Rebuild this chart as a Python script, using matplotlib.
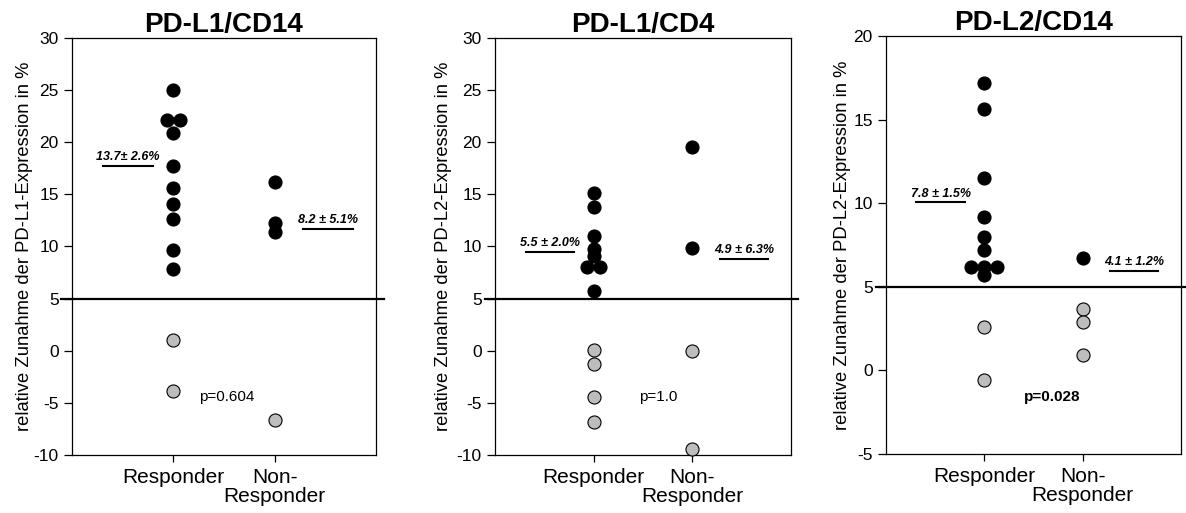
import numpy as np
import matplotlib
matplotlib.use('Agg')
from matplotlib import pyplot as plt
import matplotlib.transforms as mtransforms

plt.rcParams['font.family'] = ['Liberation Sans', 'DejaVu Sans']
plt.rcParams['axes.unicode_minus'] = False

###############################################################################
# data
titles = ['PD-L1/CD14', 'PD-L1/CD4', 'PD-L2/CD14']
ylabels = ['relative Zunahme der PD-L1-Expression in %',
           'relative Zunahme der PD-L2-Expression in %',
           'relative Zunahme der PD-L2-Expression in %']
groups = ['Responder', 'Non-\nResponder']

# panel 1: PD-L1/CD14
p1_resp_black = [25.0, 22.1, 22.1, 20.9, 17.7, 15.6, 14.1, 12.6, 9.7, 7.8]
p1_resp_grey = [1.0, -3.9]
p1_non_black = [16.2, 12.3, 11.4]
p1_non_grey = [-6.6]
p1_mean_y = [17.7, 11.7]
p1_mean_txt = ['13.7± 2.6%', '8.2 ± 5.1%']
p1_p = 'p=0.604'

# panel 2: PD-L1/CD4
p2_resp_black = [15.1, 13.8, 11.0, 9.8, 9.1, 8.0, 8.0, 5.7]
p2_resp_grey = [0.1, -1.3, -4.4, -6.8]
p2_non_black = [19.5, 9.9]
p2_non_grey = [0.0, -9.4]
p2_mean_y = [9.5, 8.8]
p2_mean_txt = ['5.5 ± 2.0%', '4.9 ± 6.3%']
p2_p = 'p=1.0'

# panel 3: PD-L2/CD14
p3_resp_black = [17.2, 15.6, 11.5, 9.2, 8.0, 7.2, 6.2, 6.2, 6.2, 5.7]
p3_resp_grey = [2.6, -0.6]
p3_non_black = [6.7]
p3_non_grey = [3.7, 2.9, 0.9]
p3_mean_y = [10.05, 5.96]
p3_mean_txt = ['7.8 ± 1.5%', '4.1 ± 1.2%']
p3_p = 'p=0.028'

threshold = 5
###############################################################################

panels = [
    dict(rb=p1_resp_black, rg=p1_resp_grey, nb=p1_non_black, ng=p1_non_grey,
         my=p1_mean_y, mt=p1_mean_txt, p=p1_p, pxy=(1.53, -4.4), pbold=False,
         ylim=(-10, 30), rect=[0.0607, 0.113, 0.2563, 0.813], ylx=-0.127),
    dict(rb=p2_resp_black, rg=p2_resp_grey, nb=p2_non_black, ng=p2_non_grey,
         my=p2_mean_y, mt=p2_mean_txt, p=p2_p, pxy=(1.65, -4.4), pbold=False,
         ylim=(-10, 30), rect=[0.4174, 0.113, 0.2496, 0.813], ylx=-0.146),
    dict(rb=p3_resp_black, rg=p3_resp_grey, nb=p3_non_black, ng=p3_non_grey,
         my=p3_mean_y, mt=p3_mean_txt, p=p3_p, pxy=(1.69, -1.6), pbold=True,
         ylim=(-5, 20), rect=[0.747, 0.115, 0.2487, 0.815], ylx=-0.12),
]


def spread(values, center, d=0.13):
    # put tied values side by side
    values = np.asarray(values, dtype=float)
    xs = np.full(len(values), float(center))
    for v in np.unique(values):
        idx = np.where(values == v)[0]
        n = len(idx)
        xs[idx] = center + (np.arange(n) - (n - 1) / 2) * d
    return xs, values


fig = plt.figure(figsize=(11.86, 5.13), dpi=100)

for i, pnl in enumerate(panels):
    ax = fig.add_axes(pnl['rect'])
    ax.set_xlim(0, 3)
    ax.set_ylim(*pnl['ylim'])

    for vals, pos, col in [(pnl['rb'], 1, 'black'), (pnl['rg'], 1, '#bdbdbd'),
                           (pnl['nb'], 2, 'black'), (pnl['ng'], 2, '#bdbdbd')]:
        x, y = spread(vals, pos)
        ax.plot(x, y, 'o', ms=9.4, mfc=col, mec='black', mew=0.8, clip_on=False, zorder=3)

    # threshold line sticking out of the box
    ax.axhline(threshold, xmin=-0.035, xmax=1.025, color='black', lw=1.6, clip_on=False)

    # mean lines with labels
    for (x0, x1), yv, txt in zip([(0.31, 0.80), (2.28, 2.77)], pnl['my'], pnl['mt']):
        ax.plot([x0, x1], [yv, yv], color='black', lw=1.5)
        ax.annotate(txt, xy=((x0 + x1) / 2, yv), xytext=(0, 2), textcoords='offset points',
                    ha='center', va='bottom', fontsize=9, fontweight='bold', fontstyle='italic')

    ax.text(pnl['pxy'][0], pnl['pxy'][1], pnl['p'], ha='center', va='center', fontsize=11,
            fontweight='bold' if pnl['pbold'] else 'normal')

    ax.set_title(titles[i], fontsize=20, fontweight='bold', pad=3)
    ax.set_ylabel(ylabels[i], fontsize=13.2)
    ax.yaxis.set_label_coords(pnl['ylx'], 0.5)

    lo, hi = pnl['ylim']
    ax.set_yticks(np.arange(lo, hi + 1, 5))
    ax.set_xticks([1, 2])
    ax.set_xticklabels(groups, fontsize=15, linespacing=1.0)
    # second group label sits a bit right of its tick
    lab = ax.get_xticklabels()[1]
    lab.set_transform(lab.get_transform() + mtransforms.ScaledTranslation(18 / 72, 0, fig.dpi_scale_trans))
    ax.tick_params(axis='y', labelsize=12.5, length=6, width=0.9, direction='out')
    ax.tick_params(axis='x', length=5, width=0.9, direction='out', pad=4)
    for s in ax.spines.values():
        s.set_linewidth(0.9)

plt.savefig('out.png', dpi=100)
